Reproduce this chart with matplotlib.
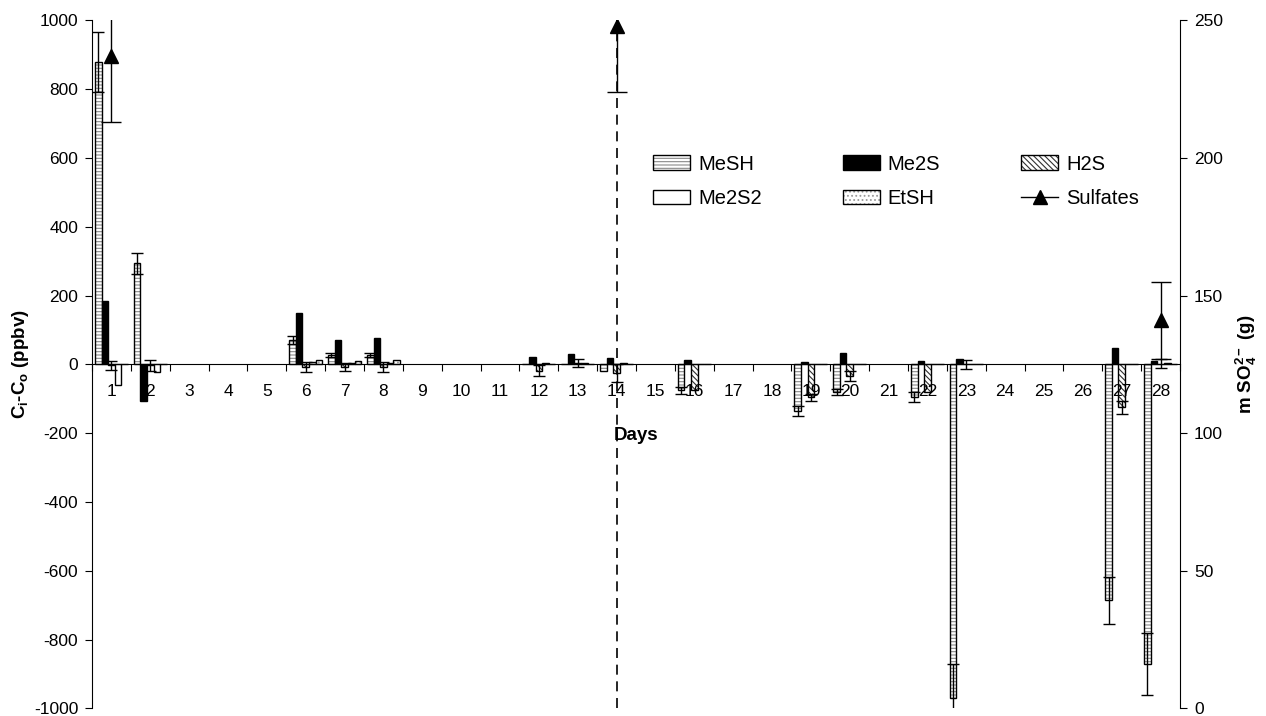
import numpy as np
import matplotlib
matplotlib.use('Agg')
import matplotlib.pyplot as plt
from matplotlib.patches import Patch
from matplotlib.lines import Line2D

plt.rcParams['font.family'] = 'Liberation Sans'
plt.rcParams['mathtext.fontset'] = 'custom'
plt.rcParams['mathtext.rm'] = 'Liberation Sans:bold'
plt.rcParams['mathtext.bf'] = 'Liberation Sans:bold'
plt.rcParams['mathtext.it'] = 'Liberation Sans:bold:italic'
plt.rcParams['axes.unicode_minus'] = False
plt.rcParams['hatch.linewidth'] = 0.8

# category axis: days 1..28
day_labels = [str(d) for d in range(1, 29)]

# days that carry measurements
days = [1, 2, 6, 7, 8, 12, 13, 14, 16, 19, 20, 22, 23, 27, 28]
mesh = [878, 294, 70, 28, 28, 0, 0, -20, -75, -135, -80, -95, -970, -685, -870]
mesh_err = [87, 30, 12, 5, 5, np.nan, np.nan, np.nan, 10, 15, 10, 15, 98, 68, 90]
me2s = [185, -105, 150, 70, 78, 23, 30, 20, 12, 6, 33, 10, 16, 48, 10]
h2s = [-3, -3, -8, -8, -8, -18, 5, -25, -75, -95, -33, -80, 0, -125, 2]
h2s_err = [14, 15, 15, 12, 15, 17, 12, 25, np.nan, 10, 15, np.nan, 12, 20, 13]
me2s2 = [-60, -23, 8, 5, 5, 3, 3, 3, 0, 0, 0, 0, 0, 0, 5]
etsh = [0, 0, 14, 10, 13, 0, 0, 0, 0, 0, 0, 0, 0, 0, 0]

# sulfates (right axis, g)
sulf_days = [1, 14, 28]
sulfates = [237, 248, 141]
sulfates_err = [24, 24, 14]

fig = plt.figure(figsize=(12.66, 7.16), dpi=100)
ax = fig.add_axes([0.0727, 0.0105, 0.8594, 0.961])

x = np.array(days, dtype=float)
w = 0.17


def draw_bars(offset, vals, face, hatch=None, hatch_col='black'):
    if hatch:
        ax.bar(x + offset, vals, w, color=face, edgecolor=hatch_col, hatch=hatch, linewidth=0)
        ax.bar(x + offset, vals, w, fill=False, edgecolor='black', linewidth=1)
    else:
        ax.bar(x + offset, vals, w, color=face, edgecolor='black', linewidth=1)


draw_bars(-2 * w, mesh, 'white', '-----', '#8a8a8a')
draw_bars(-1 * w, me2s, 'black')
draw_bars(0, h2s, 'white', '\\\\\\\\\\\\', '#303030')
draw_bars(1 * w, me2s2, 'white')
draw_bars(2 * w, etsh, 'white', '....', '#9a9a9a')

ax.errorbar(x - 2 * w, mesh, yerr=mesh_err, fmt='none', ecolor='black', elinewidth=1, capsize=4)
ax.errorbar(x, h2s, yerr=h2s_err, fmt='none', ecolor='black', elinewidth=1, capsize=4)

ax.axvline(14, color='black', linestyle=(0, (6, 4)), linewidth=1.2)

ax.set_xlim(0.5, 28.5)
ax.set_ylim(-1000, 1000)
ax.spines['bottom'].set_position(('data', 0))
ax.spines['top'].set_visible(False)
ax.spines['right'].set_visible(False)
ax.set_xticks(np.arange(0.5, 29, 1))
ax.set_xticklabels([])
ax.set_xticks(range(1, 29), minor=True)
ax.set_xticklabels(day_labels, minor=True)
ax.tick_params(axis='x', which='major', length=5, direction='out')
ax.tick_params(axis='x', which='minor', length=0, pad=14, labelsize=12.5)
ax.set_yticks(range(-1000, 1001, 200))
ax.tick_params(axis='y', length=5, labelsize=12.5, pad=5)
ax.set_xlabel('Days', fontsize=13.5, fontweight='bold', labelpad=20)
ax.set_ylabel(r'C$_\mathrm{i}$-C$_\mathrm{o}$ (ppbv)', fontsize=13.5, fontweight='bold', labelpad=2)

ax2 = ax.twinx()
ax2.errorbar(sulf_days, sulfates, yerr=sulfates_err, fmt='^', color='black', markersize=10,
             capsize=7, elinewidth=1, linestyle='none')
ax2.set_ylim(0, 250)
ax2.set_yticks(range(0, 251, 50))
for s in ['top', 'left', 'bottom']:
    ax2.spines[s].set_visible(False)
ax2.tick_params(axis='y', length=5, labelsize=12.5, pad=5)
ax2.set_ylabel(r'm SO$_\mathrm{4}^\mathrm{2-}$ (g)', fontsize=13.5, fontweight='bold', labelpad=8)

handles = [
    (Patch(facecolor='white', edgecolor='#8a8a8a', hatch='-----', linewidth=0),
     Patch(fill=False, edgecolor='black', linewidth=1)),
    Patch(facecolor='black', edgecolor='black'),
    (Patch(facecolor='white', edgecolor='#303030', hatch='\\\\\\\\\\\\', linewidth=0),
     Patch(fill=False, edgecolor='black', linewidth=1)),
    Patch(facecolor='white', edgecolor='black', linewidth=1),
    (Patch(facecolor='white', edgecolor='#9a9a9a', hatch='....', linewidth=0),
     Patch(fill=False, edgecolor='black', linewidth=1)),
    Line2D([], [], color='black', marker='^', markersize=10, linewidth=1),
]
labels = ['MeSH', 'Me2S', 'H2S', 'Me2S2', 'EtSH', 'Sulfates']
# legend is row-major in the picture; matplotlib fills columns first
order = [0, 3, 1, 4, 2, 5]
ax2.legend([handles[i] for i in order], [labels[i] for i in order], ncol=3, frameon=False,
           loc='upper left', bbox_to_anchor=(0.5156, 0.805), borderaxespad=0, borderpad=0,
           fontsize=14.5, handlelength=1.85, handletextpad=0.4, columnspacing=4.0,
           labelspacing=0.78)

fig.savefig('out.png', dpi=100)
